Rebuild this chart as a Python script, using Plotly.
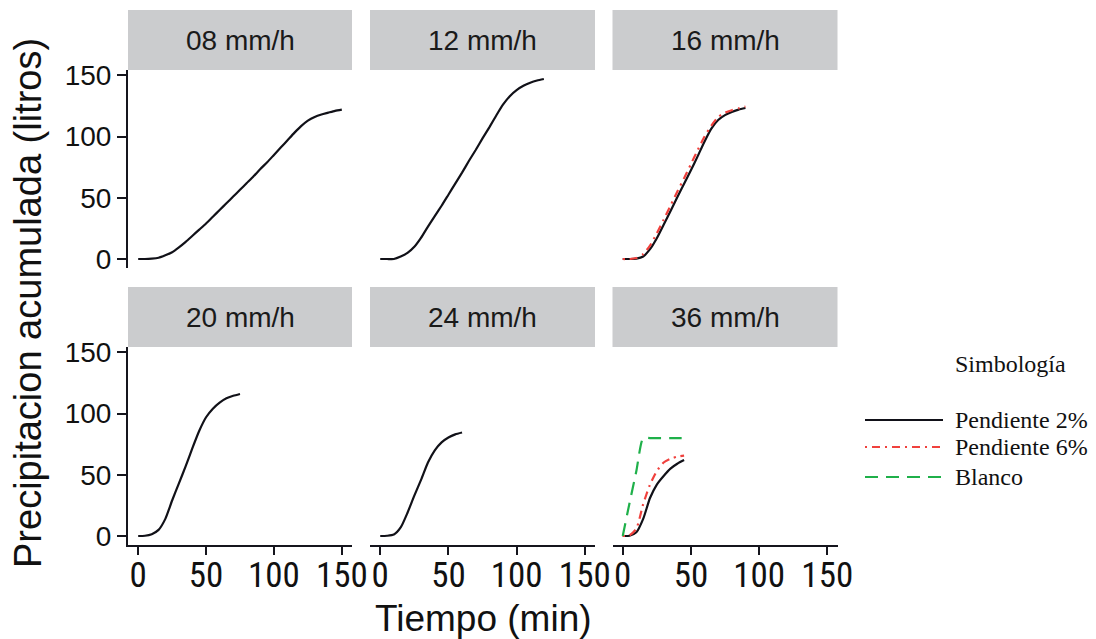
import plotly.graph_objects as go

# ---------------- data ----------------
facets = ["08 mm/h", "12 mm/h", "16 mm/h", "20 mm/h", "24 mm/h", "36 mm/h"]
series_names = ["Pendiente 2%", "Pendiente 6%", "Blanco"]

t08 = [0, 5, 10, 15, 20, 25, 30, 35, 40, 45, 50, 55, 60, 65, 70, 75, 80, 85, 90, 95, 100,
       105, 110, 115, 120, 125, 130, 135, 140, 145, 150]
p08_2 = [0, 0, 0.3, 1, 3, 5.5, 9.5, 14, 19, 24, 29, 34.5, 40, 45.5, 51, 56.5, 62, 67.5, 73.5, 79, 85,
         91, 97, 103, 108.5, 113, 116, 118, 119.5, 121, 122]

t12 = [0, 5, 10, 15, 20, 25, 30, 35, 40, 45, 50, 55, 60, 65, 70, 75, 80, 85, 90, 95, 100, 105, 110, 115, 120]
p12_2 = [0, 0, 0, 2, 5, 10, 17.5, 26.5, 35, 43.5, 52.5, 61.5, 70.5, 80, 89, 98.5, 107.5, 117, 126, 133,
         138, 141.5, 144, 145.8, 147]

t16 = [0, 5, 10, 15, 20, 25, 30, 35, 40, 45, 50, 55, 60, 65, 70, 75, 80, 85, 90]
p16_2 = [0, 0, 0.3, 2, 8, 17, 28, 39, 50.5, 61.5, 72.5, 84, 96, 106.5, 113.5, 117.5, 120, 122, 123.3]
p16_6 = [0, 0, 0.8, 4, 11, 21, 32, 43.5, 55, 66, 77.5, 89, 100, 109, 116, 119.5, 121.5, 123, 124.5]

t20 = [0, 5, 10, 15, 20, 25, 30, 35, 40, 45, 50, 55, 60, 65, 70, 75]
p20_2 = [0, 0.2, 1.5, 5, 14, 29, 43, 57, 72, 86, 97, 104, 109, 112.5, 114.5, 116]

t24 = [0, 5, 10, 15, 20, 25, 30, 35, 40, 45, 50, 55, 60]
p24_2 = [0, 0.2, 1.2, 7, 19, 33, 46, 60, 70, 76.5, 80.5, 83, 84.5]

t36 = [0, 5, 10, 15, 20, 25, 30, 35, 40, 45]
p36_2 = [0, 0.2, 3, 14, 31, 42, 49, 55, 59, 62]
p36_6 = [0, 0.5, 6, 26, 42, 53, 60, 63, 64.8, 65.6]
p36_b = [0, 27, 53, 80, 80, 80, 80, 80, 80, 80]

x_ticks = [0, 50, 100, 150]
y_ticks = [0, 50, 100, 150]

panel_data = {
    "08 mm/h": [(t08, p08_2, 0)],
    "12 mm/h": [(t12, p12_2, 0)],
    "16 mm/h": [(t16, p16_2, 0), (t16, p16_6, 1)],
    "20 mm/h": [(t20, p20_2, 0)],
    "24 mm/h": [(t24, p24_2, 0)],
    "36 mm/h": [(t36, p36_2, 0), (t36, p36_6, 1), (t36, p36_b, 2)],
}

# ---------------- style ----------------
W, H = 1096, 639
OFF = 8  # the page body adds an 8px margin; lay out in window pixels
colors = ["#111118", "#F0413D", "#1FB04A"]
dashes = ["solid", "2px,5px,8px,5px", "13px,8px"]
LW = 2.2
AX = "#15151d"
SANS = "Liberation Sans, Arial, sans-serif"
NARROW = "Liberation Sans Narrow, Arial Narrow, Roboto Condensed, sans-serif"
SERIF = "Liberation Serif, Times New Roman, serif"

col_px = [(128, 352), (370, 595), (612.5, 837.5)]
row_px = [(70, 268), (347, 545)]
strip_px = [(10, 70), (287, 347)]


def px(x):
    return (x - OFF) / W


def py(y):
    return 1 - (y - OFF) / H


fig = go.Figure()
layout = dict(
    template="none",
    width=W, height=H, margin=dict(l=0, r=0, t=0, b=0, pad=0), autosize=False,
    paper_bgcolor="white", plot_bgcolor="white", showlegend=False,
    shapes=[], annotations=[],
)

for i, name in enumerate(facets):
    r, c = divmod(i, 3)
    k = "" if i == 0 else str(i + 1)
    xa, ya = "xaxis" + k, "yaxis" + k
    layout[xa] = dict(
        domain=[px(col_px[c][0]), px(col_px[c][1])], anchor="y" + k, automargin=False,
        range=[-7.5, 157.5], tickvals=x_ticks, showgrid=False, zeroline=False,
        showline=(r == 1), linecolor=AX, linewidth=2,
        ticks="outside" if r == 1 else "", ticklen=8, tickwidth=2, tickcolor=AX,
        ticklabelstandoff=-10,
        showticklabels=(r == 1), tickfont=dict(family=NARROW, size=35, color="#111"),
    )
    layout[ya] = dict(
        domain=[py(row_px[r][1]), py(row_px[r][0])], anchor="x" + k, automargin=False,
        range=[-7.35, 154.35], tickvals=y_ticks, showgrid=False, zeroline=False,
        showline=(c == 0), linecolor=AX, linewidth=2,
        ticks="outside" if c == 0 else "", ticklen=9, tickwidth=2, tickcolor=AX,
        showticklabels=(c == 0), tickfont=dict(family=SANS, size=28, color="#111"),
    )
    # strip
    layout["shapes"].append(dict(
        type="rect", xref="paper", yref="paper",
        x0=px(col_px[c][0]), x1=px(col_px[c][1]),
        y0=py(strip_px[r][1]), y1=py(strip_px[r][0]),
        fillcolor="#CBCCCE", line=dict(width=0), layer="below",
    ))
    layout["annotations"].append(dict(
        text=name, xref="paper", yref="paper", showarrow=False,
        x=px((col_px[c][0] + col_px[c][1]) / 2), y=py((strip_px[r][0] + strip_px[r][1]) / 2),
        xanchor="center", yanchor="middle", font=dict(family=SANS, size=28, color="#1a1a1a"),
    ))
    for tx, vy, s in panel_data[name]:
        fig.add_trace(go.Scatter(
            x=tx, y=vy, mode="lines", name=series_names[s],
            xaxis="x" + k, yaxis="y" + k,
            line=dict(color=colors[s], width=LW, dash=dashes[s], shape="spline", smoothing=0.6),
        ))

# axis titles
layout["annotations"].append(dict(
    text="Tiempo (min)", xref="paper", yref="paper", showarrow=False,
    x=px(483), y=py(618), xanchor="center", yanchor="middle",
    font=dict(family=SANS, size=37, color="#111"),
))
layout["annotations"].append(dict(
    text="Precipitacion acumulada (litros)", xref="paper", yref="paper", showarrow=False,
    x=px(28), y=py(303), xanchor="center", yanchor="middle", textangle=-90,
    font=dict(family=SANS, size=38, color="#111"),
))

# legend (drawn manually)
layout["annotations"].append(dict(
    text="Simbología", xref="paper", yref="paper", showarrow=False,
    x=px(953), y=py(364), xanchor="left", yanchor="middle",
    font=dict(family=SERIF, size=24, color="#111"),
))
leg_y = [420, 447, 477]
for s, yy in enumerate(leg_y):
    layout["shapes"].append(dict(
        type="line", xref="paper", yref="paper", x0=px(865), x1=px(943), y0=py(yy), y1=py(yy),
        line=dict(color=colors[s], width=LW, dash=dashes[s]),
    ))
    layout["annotations"].append(dict(
        text=series_names[s], xref="paper", yref="paper", showarrow=False,
        x=px(953), y=py(yy), xanchor="left", yanchor="middle",
        font=dict(family=SERIF, size=24, color="#111"),
    ))

fig.update_layout(**layout)
fig.write_html("out.html")
